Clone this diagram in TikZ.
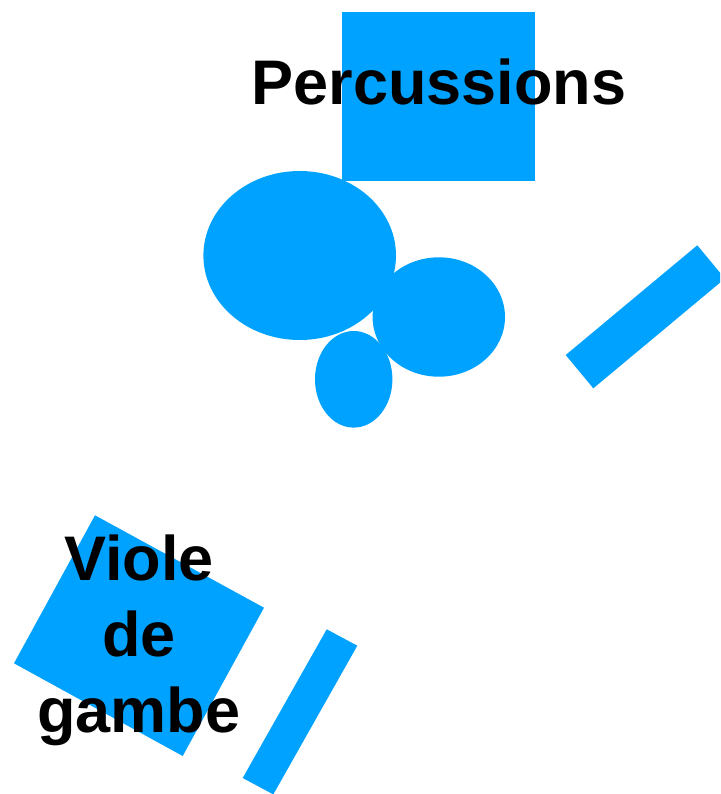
\documentclass[tikz,border=0pt]{standalone}
\usepackage{fontspec}
\setmainfont{Liberation Sans}
\definecolor{stageblue}{RGB}{0,162,255}

\begin{document}
\begin{tikzpicture}[x=1pt,y=-1pt]
				\tikzset{instrument/.style={fill=stageblue,draw=none},
					tag/.style={align=center,font=\bfseries\fontsize{63}{76}\selectfont,inner sep=0pt}}
				\useasboundingbox (0,0) rectangle (720,794);
				\clip (0,0) rectangle (720,794);
				% percussion area
				\fill [instrument] (342,12) rectangle (535,181);
				\fill [instrument] (299.7,255.5) ellipse [x radius=96.3, y radius=84.5];
				\fill [instrument] (438.8,317) ellipse [x radius=66.2, y radius=59.7];
				\fill [instrument] (353.7,379.3) ellipse [x radius=38.7, y radius=48.3];
				\fill [instrument] (565.7,355) -- (697.3,245.3) -- (724.9,278.6) -- (593.3,388.3) -- cycle;
				% viole de gambe
				\fill [instrument] (95,515.3) -- (264,607.7) -- (182.7,756) -- (14,663.3) -- cycle;
				\fill [instrument] (326.7,629.3) -- (357.3,645.7) -- (273.3,794.4) -- (242.7,778) -- cycle;
				\node [tag, anchor=base] (percu) at (439,105) {Percussions};
				\node [tag] (viole) at (139,640) {Viole\\de\\gambe};
\end{tikzpicture}
\end{document}
